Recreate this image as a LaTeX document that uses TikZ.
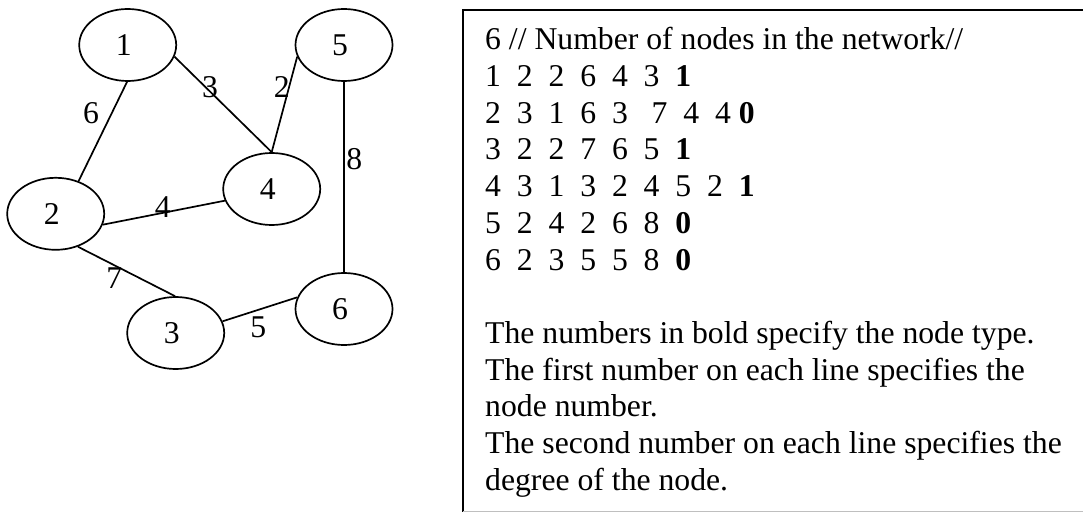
\documentclass[tikz,border=0pt]{standalone}
\usepackage{fontspec}
\setmainfont{Liberation Serif}
\usetikzlibrary{shapes.geometric}
\newcommand{\dsp}{\hspace{0.5em}}
\newcommand{\nlab}[1]{\raisebox{-2.5pt}{\kern-8pt#1}}
\begin{document}
\begin{tikzpicture}[x=1pt,y=-1pt,
  vert/.style={ellipse,draw,line width=1.7pt,minimum width=97pt,minimum height=72pt,inner sep=0pt,font=\fontsize{31.7}{36}\selectfont},
  edge/.style={line width=1.7pt},
  wlab/.style={inner sep=0pt,font=\fontsize{31.7}{36}\selectfont},
  txt/.style={anchor=base west,inner sep=0pt,font=\fontsize{31.7}{36}\selectfont},
  frame/.style={line width=1.7pt},
  frameb/.style={black!25,line width=1.2pt}]
\useasboundingbox (0,0) rectangle (1083,513);
% graph nodes
\node[vert] (n1) at (127.7,45) {\nlab{1}};
\node[vert] (n5) at (344,45) {\nlab{5}};
\node[vert] (n4) at (271.7,189) {\nlab{4}};
\node[vert] (n2) at (55.7,213.8) {\nlab{2}};
\node[vert] (n3) at (175.7,333) {\nlab{3}};
\node[vert] (n6) at (344,309) {\nlab{6}};
% edges
\draw[edge] (n1.-91.5) -- (n2.55.6);
\draw[edge] (n1.-14.4) -- (n4.90);
\draw[edge] (n5.194.4) -- (n4.90);
\draw[edge] (n5.-90) -- (n6.90);
\draw[edge] (n2.-13) -- (n4.194.9);
\draw[edge] (n2.-56.4) -- (n3.91);
\draw[edge] (n3.14) -- (n6.166);
% edge weights
\node[wlab] (w12) at (91,112.7) {6};
\node[wlab] (w14) at (210,87.3) {3};
\node[wlab] (w54) at (281.7,87.3) {2};
\node[wlab] (w56) at (354.3,159.3) {8};
\node[wlab] (w24) at (162.7,207.3) {4};
\node[wlab] (w23) at (114.3,278.3) {7};
\node[wlab] (w36) at (258.3,327.3) {5};
% text box
\draw[frame] (1083,10) -- (463,10) -- (463,511.5);
\draw[frameb] (463,511.5) -- (1083,511.5);
\node[txt] (t1) at (485,50) {6 // Number of nodes in the network//};
\node[txt] (t2) at (485,86.7) {1\dsp 2\dsp 2\dsp 6\dsp 4\dsp 3\dsp\textbf{1}};
\node[txt] (t3) at (485,123.3) {2\dsp 3\dsp 1\dsp 6\dsp 3\hspace{0.75em}7\dsp 4\dsp 4 \textbf{0}};
\node[txt] (t4) at (485,160) {3\dsp 2\dsp 2\dsp 7\dsp 6\dsp 5\dsp\textbf{1}};
\node[txt] (t5) at (485,196.7) {4\dsp 3\dsp 1\dsp 3\dsp 2\dsp 4\dsp 5\dsp 2\dsp\textbf{1}};
\node[txt] (t6) at (485,233.3) {5\dsp 2\dsp 4\dsp 2\dsp 6\dsp 8\dsp\textbf{0}};
\node[txt] (t7) at (485,270) {6\dsp 2\dsp 3\dsp 5\dsp 5\dsp 8\dsp\textbf{0}};
\node[txt] (t9) at (485,343.3) {The numbers in bold specify the node type.};
\node[txt] (t10) at (485,380) {The first number on each line specifies the};
\node[txt] (t11) at (485,416.7) {node number.};
\node[txt] (t12) at (485,453.3) {The second number on each line specifies the};
\node[txt] (t13) at (485,490) {degree of the node.};
\end{tikzpicture}
\end{document}
